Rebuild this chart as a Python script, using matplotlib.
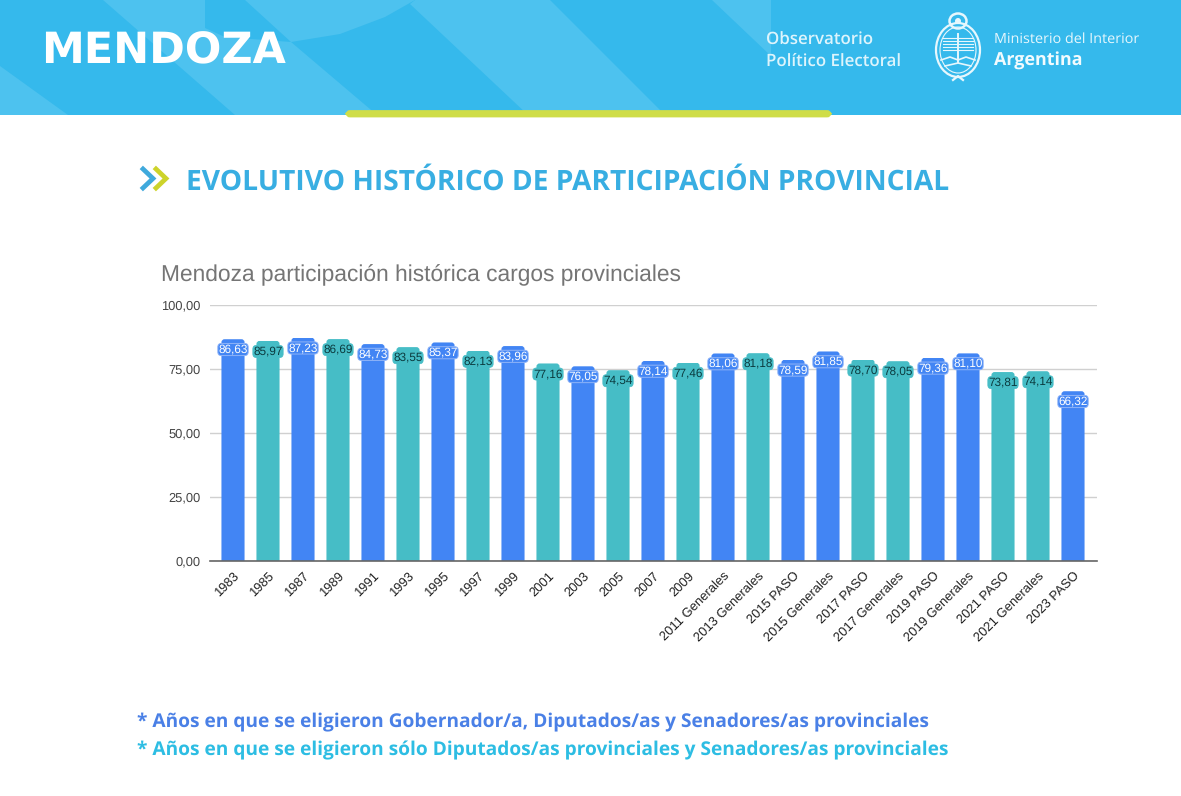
import matplotlib
matplotlib.use("Agg")
import matplotlib.pyplot as plt
from matplotlib.path import Path
from matplotlib.patches import Ellipse, FancyBboxPatch, Polygon, Rectangle

plt.rcParams["text.hinting"] = "no_hinting"

W, H = 1181, 796

categories = ["1983", "1985", "1987", "1989", "1991", "1993", "1995", "1997", "1999",
              "2001", "2003", "2005", "2007", "2009", "2011 Generales", "2013 Generales",
              "2015 PASO", "2015 Generales", "2017 PASO", "2017 Generales", "2019 PASO",
              "2019 Generales", "2021 PASO", "2021 Generales", "2023 PASO"]
values = [86.63, 85.97, 87.23, 86.69, 84.73, 83.55, 85.37, 82.13, 83.96,
          77.16, 76.05, 74.54, 78.14, 77.46, 81.06, 81.18, 78.59, 81.85,
          78.70, 78.05, 79.36, 81.10, 73.81, 74.14, 66.32]
# B = gobernador + legisladores, T = solo legisladores
cargo = list("BTBTBTBTBTBTBTBTBBTTBBTTB")
y_ticks = [0, 25, 50, 75, 100]

BLUE = "#4285F4"
TEAL = "#46BDC6"
BANNER = "#35B9EC"
BANNER_LIGHT = "#4DC2EF"


def coma(v):
    return f"{v:.2f}".replace(".", ",")


def rounded_top(x0, x1, top, rx=0.09, ry=1.2):
    verts = [(x0, 0), (x0, top - ry), (x0, top), (x0 + rx, top), (x1 - rx, top),
             (x1, top), (x1, top - ry), (x1, 0), (x0, 0)]
    codes = [Path.MOVETO, Path.LINETO, Path.CURVE3, Path.CURVE3, Path.LINETO,
             Path.CURVE3, Path.CURVE3, Path.LINETO, Path.CLOSEPOLY]
    return Path(verts, codes)


fig = plt.figure(figsize=(W / 100, H / 100), dpi=100, facecolor="white")

# capa de fondo en pixeles: banner, logo, titulos
bg = fig.add_axes([0, 0, 1, 1])
bg.set_xlim(0, W)
bg.set_ylim(H, 0)
bg.axis("off")

bg.add_patch(Rectangle((0, 0), W, 115, color=BANNER, lw=0))
light_shapes = [
    [(103, 0), (205, 0), (205, 28), (225, 37), (291, 42), (377, 115), (235, 115)],
    [(245, 0), (415, 0), (385, 17), (340, 34), (291, 42)],
    [(415, 0), (550, 0), (665, 115), (528, 115), (410, 4)],
    [(0, 66), (68, 115), (0, 115)],
    [(712, 0), (771, 0), (771, 56)],
]
for shape in light_shapes:
    bg.add_patch(Polygon(shape, closed=True, color=BANNER_LIGHT, lw=0))

bg.add_patch(FancyBboxPatch((347, 111.5), 483, 4.5, boxstyle="round,pad=0,rounding_size=3",
                            mutation_aspect=1, fc="#CFDD48", ec="#CFDD48", lw=2))

bg.text(41, 52, "MENDOZA", color="white", fontsize=31, fontweight="bold",
        family="DejaVu Sans", va="center", ha="left")
bg.text(766, 40, "Observatorio", color="#DDF4FC", fontsize=12.2, fontweight="semibold",
        family="Open Sans", va="center")
bg.text(766, 61, "Político Electoral", color="#DDF4FC", fontsize=12.2, fontweight="semibold",
        family="Open Sans", va="center")
bg.text(994, 39.5, "Ministerio del Interior", color="#E6F7FD", fontsize=10.4,
        family="Open Sans", va="center")
bg.text(994, 61, "Argentina", color="#F2FBFE", fontsize=12.9, fontweight="bold",
        family="Open Sans", va="center")

# escudo simplificado
bg.add_patch(Ellipse((958, 50), 44, 54, fc="none", ec="#E6F7FD", lw=1.6))
bg.add_patch(Ellipse((958, 50), 36, 46, fc="none", ec="#E6F7FD", lw=0.8))
bg.add_patch(Ellipse((958, 21), 17, 15, fc="none", ec="#E6F7FD", lw=1.8))
bg.add_patch(Ellipse((958, 21), 6, 6, fc="#E6F7FD", ec="none"))
for yy in [38, 41, 44, 47, 50]:
    bg.plot([943, 973], [yy, yy], color="#E6F7FD", lw=0.8)
bg.plot([941, 950, 958, 966, 975], [60, 57, 60, 57, 60], color="#E6F7FD", lw=1.2)
bg.plot([945, 958, 971], [66, 63, 66], color="#E6F7FD", lw=1.2)
bg.plot([958, 958], [34, 62], color="#E6F7FD", lw=1.4)
bg.plot([953, 958, 963], [80, 76, 80], color="#E6F7FD", lw=1.6)

# flechas del titulo
bg.plot([143, 153, 143], [169, 178.5, 188], color="#3FA9DC", lw=3.4, solid_joinstyle="miter")
bg.plot([156, 166, 156], [169, 178.5, 188], color="#CDD32A", lw=3.4, solid_joinstyle="miter")
bg.text(186, 182, "EVOLUTIVO HISTÓRICO DE PARTICIPACIÓN PROVINCIAL", color="#38AEE2",
        fontsize=20.25, fontweight="bold", family="Open Sans", va="center")

bg.text(161, 275, "Mendoza participación histórica cargos provinciales", color="#757575",
        fontsize=16.39, family="Liberation Sans", va="center")

bg.text(137, 722, "* Años en que se eligieron Gobernador/a, Diputados/as y Senadores/as provinciales",
        color="#4A80E6", fontsize=13.76, fontweight="bold", family="Open Sans", va="center")
bg.text(137, 750, "* Años en que se eligieron sólo Diputados/as provinciales y Senadores/as provinciales",
        color="#2DBDE3", fontsize=13.76, fontweight="bold", family="Open Sans", va="center")

# grafico
ax = fig.add_axes([210 / W, 1 - 561 / H, (1097 - 210) / W, (561 - 305) / H])
ax.patch.set_alpha(0)
positions = list(range(len(categories)))
colors = [BLUE if c == "B" else TEAL for c in cargo]
bars = ax.bar(positions, values, width=0.66, color=colors, zorder=2)
for bar in bars:
    bar.set_clip_path(rounded_top(bar.get_x(), bar.get_x() + bar.get_width(), bar.get_height()),
                      ax.transData)

for pos, val, c in zip(positions, values, cargo):
    if c == "B":
        ax.annotate(coma(val), (pos, val), xytext=(0, -7.4), textcoords="offset points",
                    ha="center", va="center", fontsize=8.5, family="Liberation Sans",
                    color="white", zorder=4,
                    bbox=dict(boxstyle="round,pad=0.04,rounding_size=0.3", fc=BLUE,
                              ec="#8FB4F8", lw=0.7))
    else:
        ax.annotate(coma(val), (pos, val), xytext=(0, -7.6), textcoords="offset points",
                    ha="center", va="center", fontsize=8.5, family="Liberation Sans",
                    color="#0B3B3F", zorder=4,
                    bbox=dict(boxstyle="round,pad=0.04,rounding_size=0.3", fc=TEAL,
                              ec=TEAL, lw=0.5))

ax.set_xlim(-23 / 35, 24 + 24 / 35)
ax.set_ylim(0, 100)
ax.set_yticks(y_ticks)
ax.set_yticklabels([coma(t) for t in y_ticks], fontsize=9.3, family="Liberation Sans", color="#444444")
ax.set_xticks(positions)
ax.set_xticklabels(categories, rotation=45, ha="right", rotation_mode="anchor",
                   fontsize=9.4, family="Liberation Sans", color="#222222")
ax.tick_params(axis="both", length=0)
ax.tick_params(axis="y", pad=7)
ax.tick_params(axis="x", pad=6)
ax.grid(axis="y", color="#D0D0D0", lw=1, zorder=0)
ax.set_axisbelow(True)
for side in ["top", "right", "left"]:
    ax.spines[side].set_visible(False)
ax.spines["bottom"].set_color("#666666")
ax.spines["bottom"].set_linewidth(1.2)

fig.savefig("out.png", dpi=100)
